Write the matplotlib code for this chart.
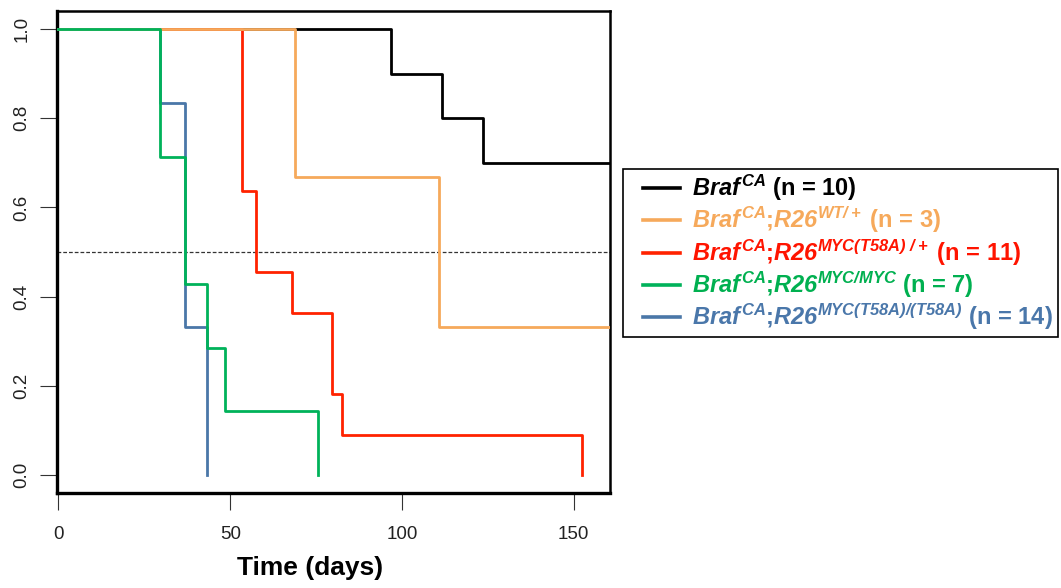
import matplotlib
matplotlib.use("Agg")
import matplotlib.pyplot as plt
from matplotlib.lines import Line2D
from matplotlib.patches import Rectangle

plt.rcParams['font.family'] = ['Liberation Sans', 'DejaVu Sans']
plt.rcParams['mathtext.fontset'] = 'custom'
plt.rcParams['mathtext.rm'] = 'Liberation Sans'
plt.rcParams['mathtext.it'] = 'Liberation Sans:italic'
plt.rcParams['mathtext.bf'] = 'Liberation Sans:bold'
plt.rcParams['mathtext.bfit'] = 'Liberation Sans:italic:bold'

# Kaplan-Meier steps (days, survival fraction)
black_t = [0, 96.7, 111.6, 123.5, 162]
black_s = [1.0, 0.9, 0.8, 0.7, 0.7]
orange_t = [0, 69.0, 110.7, 162]
orange_s = [1.0, 0.667, 0.333, 0.333]
red_t = [0, 53.5, 57.6, 68.0, 79.6, 82.6, 152.4]
red_s = [1.0, 0.636, 0.455, 0.364, 0.182, 0.091, 0.0]
green_t = [0, 29.5, 36.8, 43.2, 48.5, 75.7]
green_s = [1.0, 0.714, 0.429, 0.286, 0.143, 0.0]
blue_t = [0, 29.5, 36.8, 43.1]
blue_s = [1.0, 0.833, 0.333, 0.0]

braf = r"$\mathbfit{Braf}^{\hspace{0.12}\mathbfit{CA}}$"
labels = [braf + " (n = 10)",
          braf + r";$\mathbfit{R26}^{\mathbfit{WT/+}}$ (n = 3)",
          braf + r";$\mathbfit{R26}^{\mathbfit{MYC(T58A)\ /+}}$ (n = 11)",
          braf + r";$\mathbfit{R26}^{\mathbfit{MYC/MYC}}$ (n = 7)",
          braf + r";$\mathbfit{R26}^{\mathbfit{MYC(T58A)/(T58A)}}$ (n = 14)"]
line_cols = ['#000000', '#F6A95B', '#FF2200', '#00B25A', '#4A77A8']
text_cols = ['#000000', '#F6A95B', '#FF1400', '#00B050', '#4A77AA']

W, H = 1061, 588
fig = plt.figure(figsize=(W / 100, H / 100), dpi=100)
ax = fig.add_axes([0.0535, 0.1616, 0.5215, 0.8196])

lw = 2.0
ax.step(black_t, black_s, where='post', color=line_cols[0], lw=lw, zorder=1)
ax.step(red_t, red_s, where='post', color=line_cols[2], lw=lw, zorder=2)
ax.step(blue_t, blue_s, where='post', color=line_cols[4], lw=lw, zorder=3)
ax.step(orange_t, orange_s, where='post', color=line_cols[1], lw=lw, zorder=4)
ax.step(green_t, green_s, where='post', color=line_cols[3], lw=lw, zorder=5)

ax.axhline(0.5, color='#333333', lw=0.9, ls=(0, (3, 1.6)), zorder=0)

ax.set_xlim(-0.5, 160.6)
ax.set_ylim(-0.04, 1.04)
ax.set_xticks([0, 50, 100, 150])
ax.set_yticks([0.0, 0.2, 0.4, 0.6, 0.8, 1.0])
ax.set_yticklabels(['0.0', '0.2', '0.4', '0.6', '0.8', '1.0'], rotation=90, va='center')
ax.tick_params(axis='both', length=12, width=0.8, color='#333333', labelsize=13.5,
               labelcolor='#222222')
ax.tick_params(axis='x', pad=12)
ax.tick_params(axis='y', pad=7)
for s in ['left', 'bottom']:
    ax.spines[s].set_linewidth(2.4)
for s in ['top', 'right']:
    ax.spines[s].set_linewidth(1.8)

fig.text(310 / W, 1 - 568 / H, 'Time (days)', ha='center', va='center',
         fontsize=19, fontweight='bold')

# legend, laid out by hand (pixel positions of the original box)
fig.patches.append(Rectangle((623 / W, 1 - 337 / H), 435 / W, 168 / H,
                             transform=fig.transFigure, fill=False,
                             edgecolor='black', lw=1.2))
for i, (lab, lc, tc) in enumerate(zip(labels, line_cols, text_cols)):
    yrow = 188 + 32.3 * i
    fig.add_artist(Line2D([643 / W, 680 / W], [1 - yrow / H, 1 - yrow / H],
                          transform=fig.transFigure, color=lc, lw=2.6))
    fig.text(692 / W, 1 - (yrow + 8) / H, lab, ha='left', va='baseline',
             fontsize=17, fontweight='bold', color=tc)

fig.savefig('out.png', dpi=100)
